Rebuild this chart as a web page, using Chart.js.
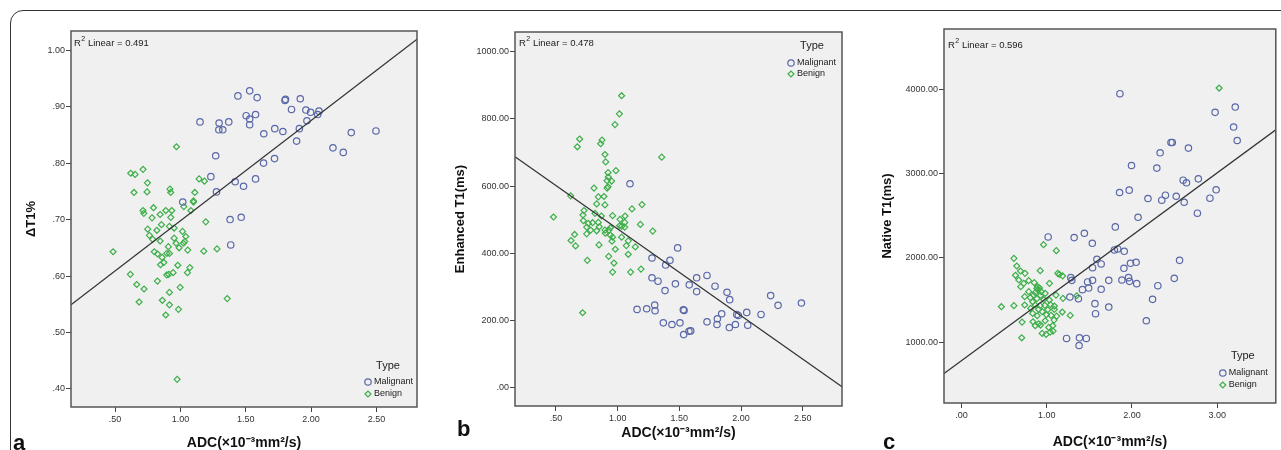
<!DOCTYPE html>
<html>
<head>
<meta charset="utf-8">
<script src="https://cdn.jsdelivr.net/npm/chart.js@4/dist/chart.umd.min.js"></script>
<style>
  html, body { margin: 0; background: #fff; }
  #wrap { position: relative; width: 1281px; height: 450px; overflow: hidden; font-family: "Liberation Sans", Arial, sans-serif; }
  #frame { position: absolute; left: 10px; top: 10px; width: 1300px; height: 500px; border: 1.5px solid #333; border-top-left-radius: 13px; box-sizing: border-box; }
  .panel { position: absolute; top: 0; }
  .tag { position: absolute; font-weight: bold; font-size: 22px; line-height: 22px; color: #111; }
</style>
</head>
<body>
<div id="wrap">
  <div id="frame"></div>
  <canvas id="chartA" class="panel" width="425" height="450" style="left:0"></canvas>
  <canvas id="chartB" class="panel" width="425" height="450" style="left:425px"></canvas>
  <canvas id="chartC" class="panel" width="431" height="450" style="left:850px"></canvas>
  <div class="tag" style="left:13px;top:432px">a</div>
  <div class="tag" style="left:457px;top:418px">b</div>
  <div class="tag" style="left:883px;top:431px">c</div>
</div>
<script>
// ---- data: [ADC, value] pairs ----
const malignantA = [[1.44,0.919],[1.53,0.928],[1.587,0.916],[1.804,0.913],[1.80,0.911],[1.917,0.914],[1.85,0.895],[1.96,0.894],[1.996,0.890],[2.06,0.892],[2.05,0.886],[1.968,0.875],[1.91,0.861],[1.503,0.884],[1.575,0.886],[1.53,0.878],[1.53,0.868],[1.15,0.873],[1.296,0.871],[1.37,0.873],[1.294,0.859],[1.324,0.859],[1.638,0.852],[1.722,0.861],[1.784,0.856],[2.307,0.854],[2.496,0.857],[1.889,0.839],[2.167,0.827],[2.246,0.819],[1.27,0.813],[1.72,0.808],[1.636,0.800],[1.233,0.776],[1.419,0.767],[1.575,0.772],[1.483,0.759],[1.276,0.749],[1.018,0.731],[1.38,0.700],[1.465,0.704],[1.385,0.655]];
const benignA = [[0.97,0.829],[0.62,0.782],[0.653,0.780],[0.714,0.789],[0.748,0.765],[0.645,0.748],[0.745,0.749],[0.92,0.754],[0.926,0.748],[1.143,0.772],[1.184,0.768],[1.11,0.748],[1.10,0.733],[1.10,0.731],[1.026,0.723],[1.08,0.716],[0.714,0.716],[0.72,0.711],[0.794,0.721],[0.783,0.703],[0.888,0.716],[0.934,0.716],[0.845,0.709],[0.926,0.704],[0.855,0.691],[0.75,0.683],[0.82,0.681],[0.952,0.685],[0.763,0.672],[0.916,0.688],[0.788,0.665],[0.845,0.662],[0.952,0.667],[1.016,0.679],[1.041,0.670],[1.033,0.661],[1.056,0.646],[0.967,0.658],[1.023,0.658],[0.99,0.650],[0.908,0.652],[1.194,0.696],[1.179,0.644],[1.28,0.648],[0.485,0.643],[0.80,0.643],[0.826,0.639],[0.86,0.633],[0.896,0.640],[0.916,0.640],[0.873,0.624],[0.848,0.620],[0.98,0.619],[1.072,0.615],[1.054,0.606],[0.944,0.606],[0.896,0.602],[0.911,0.603],[0.617,0.603],[0.666,0.585],[0.824,0.591],[0.722,0.577],[0.998,0.580],[0.916,0.571],[0.684,0.554],[0.862,0.557],[0.916,0.549],[0.985,0.541],[0.888,0.531],[1.358,0.560],[0.975,0.417]];

const malignantB = [[1.10,607],[1.486,416],[1.278,386],[1.424,379],[1.389,365],[1.278,327],[1.327,317],[1.468,309],[1.58,306],[1.64,327],[1.724,334],[1.64,286],[1.384,289],[1.789,302],[1.886,284],[1.908,262],[2.24,274],[2.30,245],[2.489,252],[1.157,233],[1.235,235],[1.30,246],[1.303,229],[1.532,232],[1.538,230],[1.843,220],[1.808,205],[1.965,218],[1.978,215],[2.046,224],[2.162,218],[1.37,193],[1.44,188],[1.505,193],[1.724,196],[1.805,188],[1.954,188],[1.905,179],[2.054,186],[1.578,168],[1.592,169],[1.535,158]];
const benignB = [[1.032,869],[1.014,815],[0.978,783],[0.692,740],[0.673,717],[0.873,737],[0.862,726],[1.357,686],[0.897,694],[0.903,672],[0.986,646],[0.922,640],[0.924,627],[0.914,616],[0.951,615],[0.922,598],[0.914,594],[0.808,594],[0.619,571],[0.889,569],[0.843,568],[0.83,547],[0.897,544],[1.06,511],[1.116,532],[1.197,545],[0.48,508],[0.727,527],[0.719,514],[0.959,512],[0.816,519],[0.868,511],[1.019,501],[1.057,492],[1.032,480],[0.722,497],[0.762,489],[0.797,491],[0.843,492],[0.749,478],[0.781,469],[0.83,467],[0.851,479],[0.897,469],[0.93,469],[0.941,476],[1.016,482],[1.057,478],[1.184,486],[1.284,466],[0.9,460],[0.941,454],[0.959,448],[0.651,456],[0.622,438],[0.659,422],[0.749,458],[1.032,448],[1.086,437],[1.07,423],[1.143,419],[0.954,436],[0.849,425],[0.981,412],[1.086,397],[0.927,391],[0.754,379],[0.97,371],[0.959,344],[1.105,344],[1.189,353],[0.716,223]];

const malignantC = [[1.859,3945],[2.976,3724],[3.212,3787],[3.193,3550],[3.235,3391],[2.458,3368],[2.474,3368],[2.663,3301],[2.331,3245],[2.292,3064],[1.995,3095],[1.855,2775],[1.968,2803],[2.188,2704],[2.35,2684],[2.393,2743],[2.52,2731],[2.601,2921],[2.64,2890],[2.779,2937],[2.988,2807],[2.613,2660],[2.915,2708],[2.768,2530],[2.072,2482],[1.805,2368],[1.017,2249],[1.322,2241],[1.442,2293],[1.535,2174],[1.794,2095],[1.833,2107],[1.91,2079],[1.589,1984],[1.639,1929],[1.538,1885],[1.983,1937],[2.049,1949],[2.559,1972],[1.906,1878],[1.283,1767],[1.295,1735],[1.48,1716],[1.538,1735],[1.728,1735],[1.882,1739],[1.96,1767],[1.972,1723],[2.056,1696],[2.497,1759],[1.492,1644],[1.639,1629],[2.304,1672],[1.272,1538],[1.372,1518],[1.419,1625],[1.566,1459],[1.573,1340],[1.728,1419],[2.242,1510],[2.169,1257],[1.233,1047],[1.384,1055],[1.465,1047],[1.38,964]];
const benignC = [[3.023,4012],[0.963,2158],[1.113,2087],[0.615,1996],[0.649,1905],[0.924,1850],[0.692,1846],[0.746,1818],[0.634,1795],[1.032,1700],[1.129,1818],[1.148,1806],[1.187,1787],[0.673,1739],[0.789,1731],[0.696,1660],[0.73,1700],[0.854,1708],[0.893,1660],[0.789,1601],[0.866,1589],[0.885,1640],[0.916,1644],[0.897,1621],[0.935,1601],[0.847,1561],[0.928,1557],[0.982,1581],[1.109,1561],[0.742,1542],[0.808,1530],[0.885,1518],[0.966,1506],[1.032,1502],[1.191,1522],[1.353,1553],[0.468,1423],[0.615,1435],[0.742,1443],[0.835,1482],[0.866,1443],[0.924,1435],[0.978,1439],[1.044,1447],[1.09,1431],[0.812,1403],[0.905,1391],[0.947,1364],[1.013,1387],[1.09,1391],[1.183,1360],[1.276,1320],[0.835,1344],[0.889,1316],[0.997,1328],[1.051,1320],[1.117,1312],[0.711,1241],[0.839,1245],[0.905,1221],[0.982,1257],[1.086,1265],[0.866,1198],[0.928,1206],[1.024,1178],[1.071,1198],[0.947,1107],[0.993,1095],[1.04,1123],[1.075,1134],[0.707,1055]];

// tick values
const adcTicksAB = [0.5, 1.0, 1.5, 2.0, 2.5];
const adcTicksC = [0, 1, 2, 3];
const dT1Ticks = [0.4, 0.5, 0.6, 0.7, 0.8, 0.9, 1.0];
const enhTicks = [0, 200, 400, 600, 800, 1000];
const natTicks = [1000, 2000, 3000, 4000];

// linear fit lines (intercept, slope) and R²
const fitA = { b0: 0.520, b1: 0.1777, r2: '0.491' };
const fitB = { b0: 730.9, b1: -258.3, r2: '0.478' };
const fitC = { b0: 784, b1: 741.3, r2: '0.596' };

const seriesNames = ['Malignant', 'Benign'];
const MAL_COLOR = '#5a68a8';
const BEN_COLOR = '#3daf49';
const FONT = '"Liberation Sans", Arial, sans-serif';

const spss = v => (Math.abs(v) < 1e-9 ? '.00' : v.toFixed(2).replace(/^0\./, '.'));

function drawMarker(ctx, style, x, y) {
  ctx.beginPath();
  if (style === 'circle') ctx.arc(x, y, 3.2, 0, Math.PI * 2);
  else { ctx.moveTo(x - 3, y); ctx.lineTo(x, y - 3); ctx.lineTo(x + 3, y); ctx.lineTo(x, y + 3); ctx.closePath(); }
  ctx.stroke();
}

const deco = {
  id: 'deco',
  beforeDraw(chart) {
    const { ctx, chartArea: a } = chart;
    ctx.save();
    ctx.fillStyle = '#f0f0f0';
    ctx.fillRect(a.left, a.top, a.width, a.height);
    ctx.restore();
  },
  afterDraw(chart, args, o) {
    const { ctx, chartArea: a } = chart;
    ctx.save();
    ctx.strokeStyle = '#555';
    ctx.lineWidth = 1.5;
    ctx.strokeRect(a.left, a.top, a.width, a.height);

    // R² label
    ctx.fillStyle = '#222';
    ctx.textBaseline = 'middle';
    ctx.textAlign = 'left';
    let x = a.left + o.r2x;
    const y = a.top + o.r2y;
    ctx.font = '9.5px ' + FONT;
    ctx.fillText('R', x, y);
    x += ctx.measureText('R').width + 0.5;
    ctx.font = '7px ' + FONT;
    ctx.fillText('2', x, y - 3.5);
    x += ctx.measureText('2').width;
    ctx.font = '9.5px ' + FONT;
    ctx.fillText(' Linear = ' + o.r2, x, y);

    // legend
    const ty = o.legTop ? a.top + o.typeDy : a.bottom - o.typeDy;
    ctx.font = '11px ' + FONT;
    ctx.textAlign = 'center';
    ctx.fillText('Type', a.right - o.typeDx, ty);
    ctx.font = '9px ' + FONT;
    ctx.textAlign = 'left';
    const mx = a.right - o.markDx;
    const styles = ['circle', 'diamond'];
    const colors = [MAL_COLOR, BEN_COLOR];
    seriesNames.forEach((name, i) => {
      const ry = ty + o.rows[i];
      ctx.strokeStyle = colors[i];
      ctx.lineWidth = 1.2;
      drawMarker(ctx, styles[i], mx, ry);
      ctx.fillStyle = '#222';
      ctx.fillText(name, mx + 6, ry);
    });
    ctx.restore();
  }
};

function makePanel(id, p) {
  const pts = arr => arr.map(([x, y]) => ({ x, y }));
  return new Chart(document.getElementById(id), {
    type: 'scatter',
    data: {
      datasets: [
        { label: 'fit', data: [{ x: p.xMin, y: p.fit.b0 + p.fit.b1 * p.xMin }, { x: p.xMax, y: p.fit.b0 + p.fit.b1 * p.xMax }],
          showLine: true, borderColor: '#333', borderWidth: 1.3, pointRadius: 0, fill: false },
        { label: seriesNames[0], data: pts(p.mal), pointStyle: 'circle', pointRadius: 3.2,
          borderColor: MAL_COLOR, backgroundColor: 'transparent', pointBorderWidth: 1.2 },
        { label: seriesNames[1], data: pts(p.ben), pointStyle: 'rectRot', pointRadius: 3,
          borderColor: BEN_COLOR, backgroundColor: 'transparent', pointBorderWidth: 1.2 }
      ]
    },
    options: {
      responsive: false,
      animation: false,
      events: [],
      layout: { padding: { top: p.top, right: p.right, left: 0, bottom: 0 } },
      plugins: {
        legend: { display: false },
        tooltip: { enabled: false },
        deco: p.deco
      },
      scales: {
        x: {
          type: 'linear', min: p.xMin, max: p.xMax,
          afterBuildTicks: s => { s.ticks = p.xTicks.map(v => ({ value: v })) },
          afterFit: s => { s.height = p.xAxisH },
          ticks: { callback: spss, autoSkip: false, maxRotation: 0, padding: 2, color: '#333', font: { family: FONT, size: 9 } },
          grid: { drawOnChartArea: false, tickLength: 5, color: '#444' },
          border: { display: false },
          title: { display: true, text: 'ADC(×10⁻³mm²/s)', color: '#111',
                   font: { family: FONT, size: 14, weight: 'bold', lineHeight: 1 }, padding: { top: 0, bottom: p.xTitlePad } }
        },
        y: {
          type: 'linear', min: p.yMin, max: p.yMax,
          afterBuildTicks: s => { s.ticks = p.yTicks.map(v => ({ value: v })) },
          afterFit: s => { s.width = p.yAxisW },
          ticks: { callback: spss, autoSkip: false, padding: 1, color: '#333', font: { family: FONT, size: 9 } },
          grid: { drawOnChartArea: false, tickLength: 5, color: '#444' },
          border: { display: false },
          title: { display: true, text: p.yTitle, color: '#111',
                   font: { family: FONT, size: 13, weight: 'bold', lineHeight: 1 }, padding: { top: p.yTitlePad, bottom: 0 } }
        }
      }
    },
    plugins: [deco]
  });
}

makePanel('chartA', {
  mal: malignantA, ben: benignA, fit: fitA,
  xMin: 0.163, xMax: 2.81, yMin: 0.368, yMax: 1.034,
  xTicks: adcTicksAB, yTicks: dT1Ticks, yTitle: 'ΔT1%',
  top: 31, right: 8, xAxisH: 43, yAxisW: 71, xTitlePad: 0, yTitlePad: 25,
  deco: { r2: fitA.r2, r2x: 3, r2y: 12, legTop: false, typeDy: 41, typeDx: 29, markDx: 49, rows: [16, 28] }
});
makePanel('chartB', {
  mal: malignantB, ben: benignB, fit: fitB,
  xMin: 0.168, xMax: 2.818, yMin: -54.5, yMax: 1058.6,
  xTicks: adcTicksAB, yTicks: enhTicks, yTitle: 'Enhanced T1(ms)',
  top: 32, right: 8, xAxisH: 44, yAxisW: 90, xTitlePad: 9.5, yTitlePad: 29,
  deco: { r2: fitB.r2, r2x: 4, r2y: 11, legTop: true, typeDy: 14, typeDx: 30, markDx: 51, rows: [17, 28] }
});
makePanel('chartC', {
  mal: malignantC, ben: benignC, fit: fitC,
  xMin: -0.205, xMax: 3.688, yMin: 283, yMax: 4711,
  xTicks: adcTicksC, yTicks: natTicks, yTitle: 'Native T1(ms)',
  top: 29, right: 1, xAxisH: 47, yAxisW: 94, xTitlePad: 0.5, yTitlePad: 31,
  deco: { r2: fitC.r2, r2x: 4, r2y: 16, legTop: false, typeDy: 47, typeDx: 33, markDx: 53, rows: [17, 29] }
});
</script>
</body>
</html>
